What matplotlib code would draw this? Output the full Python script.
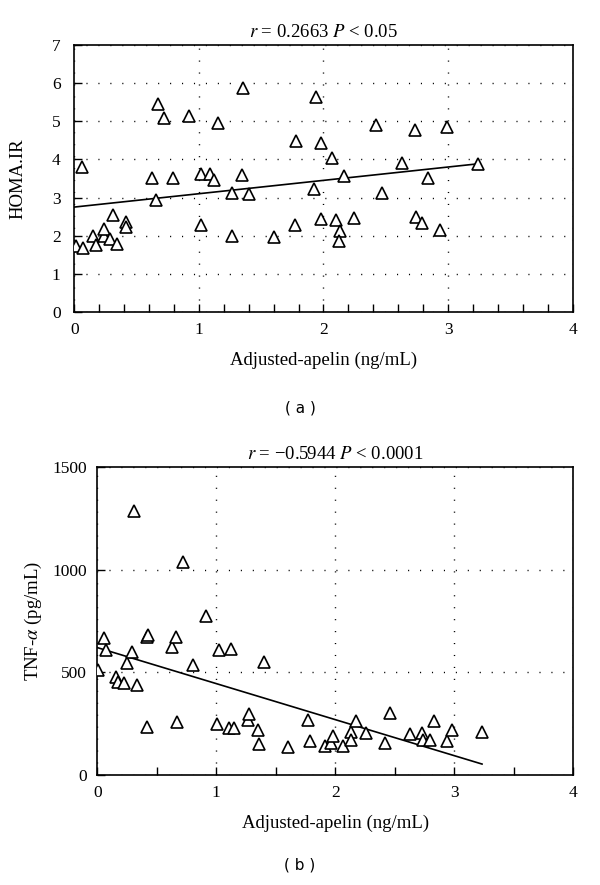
# -*- coding: utf-8 -*-
# Two scatter plots of adjusted apelin vs HOMA.IR and TNF-alpha
import matplotlib
matplotlib.use('Agg')
import matplotlib.pyplot as plt
import numpy as np
from matplotlib.ticker import MultipleLocator

# data
apelin_a = [0.013, 0.059, 0.067, 0.152, 0.173, 0.237, 0.24, 0.285, 0.312, 0.339,
            0.419, 0.419, 0.624, 0.659, 0.672, 0.723, 0.792, 0.92, 1.013, 1.013,
            1.093, 1.12, 1.155, 1.267, 1.267, 1.347, 1.352, 1.40, 1.60, 1.773,
            1.779, 1.92, 1.941, 1.981, 1.981, 2.067, 2.099, 2.133, 2.128, 2.168,
            2.248, 2.419, 2.467, 2.632, 2.733, 2.739, 2.79, 2.84, 2.939, 2.992, 3.24]
homa = [1.72, 3.81, 1.68, 1.98, 1.76, 2.0, 2.18, 1.92, 2.54, 1.79,
        2.36, 2.22, 3.50, 2.93, 5.44, 5.09, 3.50, 5.15, 3.61, 2.28,
        3.61, 3.47, 4.96, 3.11, 1.98, 3.59, 5.87, 3.08, 1.96, 2.28,
        4.47, 3.23, 5.63, 4.44, 2.44, 4.03, 2.40, 2.13, 1.87, 3.56,
        2.46, 4.89, 3.11, 3.90, 4.76, 2.48, 2.33, 3.51, 2.15, 4.85, 3.88]
fit_a = (2.75, 0.35)  # intercept, slope

apelin_b = [0.008, 0.059, 0.07, 0.157, 0.177, 0.228, 0.247, 0.295, 0.309, 0.331,
            0.416, 0.43, 0.421, 0.626, 0.663, 0.669, 0.719, 0.803, 0.913, 1.006,
            1.02, 1.104, 1.124, 1.152, 1.264, 1.272, 1.348, 1.357, 1.40, 1.601,
            1.77, 1.784, 1.916, 1.96, 1.98, 2.064, 2.13, 2.134, 2.174, 2.254,
            2.418, 2.456, 2.628, 2.725, 2.734, 2.792, 2.831, 2.935, 2.982, 3.233]
tnf = [512, 670, 609, 476, 455, 450, 544, 601, 1289, 437,
       674, 683, 232, 626, 674, 257, 1040, 538, 775, 247,
       609, 227, 613, 227, 268, 296, 219, 151, 551, 135,
       268, 167, 142, 156, 190, 142, 212, 170, 265, 207,
       155, 303, 198, 207, 169, 171, 261, 168, 218, 212]
fit_b = (621, -175.6)

plt.rcParams['font.family'] = ['Liberation Serif', 'DejaVu Serif']
plt.rcParams['mathtext.fontset'] = 'stix'

f = plt.figure(figsize=(6, 8.85), dpi=100)

def style_axes(ax, xminor, ymajor, ymax, ypad):
    ax.set_xlim(0, 4)
    ax.set_ylim(0, ymax)
    ax.xaxis.set_major_locator(MultipleLocator(1))
    ax.xaxis.set_minor_locator(MultipleLocator(xminor))
    ax.yaxis.set_major_locator(MultipleLocator(ymajor))
    ax.tick_params(which='both', direction='in', top=False, right=False,
                   length=6, width=1, labelsize=12.5)
    ax.tick_params(axis='x', pad=7)
    ax.tick_params(axis='y', pad=ypad)
    ax.grid(True, which='major', color='black', linestyle=(0, (0.8, 7.8)), linewidth=1)
    for s in ax.spines.values():
        s.set_linewidth(1.2)

def draw(ax, xs, ys, fit):
    ax.plot(xs, ys, '^', ms=9, mfc='white', mec='black', mew=1.2, zorder=3)
    xl = np.array([0, max(xs)])
    ax.plot(xl, fit[0] + fit[1] * xl, color='black', linewidth=1.2, zorder=2)

# panel (a)
ax1 = f.add_axes([0.1238, 0.6475, 0.8307, 0.3017])
style_axes(ax1, 0.2, 1, 7, 9.8)
draw(ax1, apelin_a, homa, fit_a)
ax1.set_title('$r$ = 0.2663 $P$ < 0.05', fontsize=13.5, pad=6)
ax1.set_xlabel('Adjusted-apelin (ng/mL)', fontsize=13.5, labelpad=10)
ax1.set_ylabel('HOMA.IR', fontsize=13.5)
ax1.yaxis.set_label_coords(-0.095, 0.5)

# panel (b)
ax2 = f.add_axes([0.1622, 0.1243, 0.7933, 0.3477])
style_axes(ax2, 0.5, 500, 1500, 7.5)
draw(ax2, apelin_b, tnf, fit_b)
ax2.set_title('$r$ = \u22120.5944 $P$ < 0.0001', fontsize=13.5, pad=6)
ax2.set_xlabel('Adjusted-apelin (ng/mL)', fontsize=13.5, labelpad=10)
ax2.set_ylabel('TNF-$\\alpha$ (pg/mL)', fontsize=13.5)
ax2.yaxis.set_label_coords(-0.112, 0.5)

f.text(0.5, 1 - 408 / 885, '( a )', ha='center', va='center', fontsize=11, family='DejaVu Sans')
f.text(0.5, 1 - 865 / 885, '( b )', ha='center', va='center', fontsize=11, family='DejaVu Sans')

f.savefig('out.png', dpi=100)
